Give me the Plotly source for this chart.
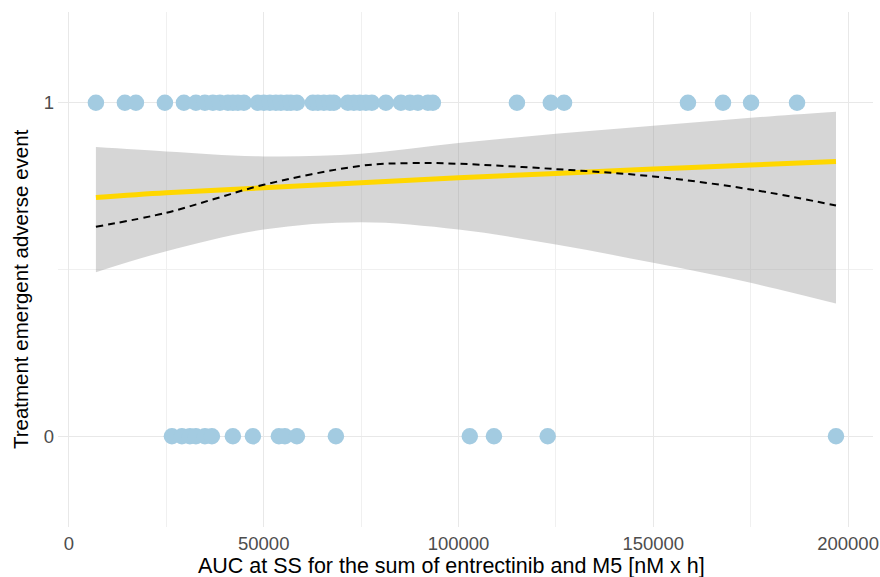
import plotly.graph_objects as go

# Observed data: exposure (AUC) and event indicator
auc_event1 = [6930, 14370, 17200, 24640, 29520, 32600, 34900, 36960, 38760, 40810,
              42090, 43380, 44920, 48510, 50050, 51590, 53130, 54410, 55960, 56980,
              58520, 62630, 63910, 65450, 66990, 68020, 71610, 73150, 74690, 76230,
              77770, 81360, 85220, 87530, 89580, 92150, 93430, 115000, 123700, 127100,
              158900, 167900, 175100, 186900]
auc_event0 = [26440, 29000, 31060, 32600, 34910, 36700, 42090, 47230, 53900, 55440,
              58520, 68530, 102900, 109100, 122900, 196900]

# Fitted curves
fit_x = [6930, 25000, 50000, 75000, 100000, 125000, 150000, 175000, 196900]
logit_fit = [0.716, 0.730, 0.745, 0.760, 0.775, 0.788, 0.801, 0.813, 0.824]
ci_upper = [0.867, 0.854, 0.839, 0.847, 0.879, 0.907, 0.931, 0.955, 0.973]
ci_lower = [0.492, 0.555, 0.620, 0.642, 0.620, 0.575, 0.520, 0.460, 0.398]
smooth_x = [6930, 25000, 37500, 50000, 75000, 87500, 100000, 125000, 150000, 175000, 196900]
smooth_fit = [0.628, 0.670, 0.712, 0.754, 0.811, 0.819, 0.817, 0.801, 0.779, 0.740, 0.692]

x_ticks = [0, 50000, 100000, 150000, 200000]
y_ticks = [0, 1]
x_title = "AUC at SS for the sum of entrectinib and M5 [nM x h]"
y_title = "Treatment emergent adverse event"

POINT = "#a3cbe1"

fig = go.Figure()

fig.add_trace(go.Scatter(
    x=fit_x, y=ci_lower, mode="lines", line=dict(width=0, shape="spline"),
    showlegend=False, hoverinfo="skip"))
fig.add_trace(go.Scatter(
    x=fit_x, y=ci_upper, mode="lines", line=dict(width=0, shape="spline"),
    fill="tonexty", fillcolor="rgba(153,153,153,0.4)",
    showlegend=False, hoverinfo="skip"))
fig.add_trace(go.Scatter(
    x=fit_x, y=logit_fit, mode="lines", line=dict(color="#FFD700", width=5, shape="spline"),
    showlegend=False))
fig.add_trace(go.Scatter(
    x=smooth_x, y=smooth_fit, mode="lines",
    line=dict(color="black", width=2, dash="7px,5px", shape="spline"), showlegend=False))

fig.add_trace(go.Scatter(
    x=auc_event1, y=[1] * len(auc_event1), mode="markers",
    marker=dict(size=16.5, color=POINT, line=dict(width=0)), showlegend=False))
fig.add_trace(go.Scatter(
    x=auc_event0, y=[0] * len(auc_event0), mode="markers",
    marker=dict(size=16.5, color=POINT, line=dict(width=0)), showlegend=False))

fig.update_layout(
    width=880, height=577,
    margin=dict(l=58, r=7, t=12, b=50),
    plot_bgcolor="white", paper_bgcolor="white",
    font=dict(family="Arial, Liberation Sans, sans-serif", size=18, color="black"),
    annotations=[
        dict(text=x_title, xref="paper", yref="paper", x=0.483, y=-0.076,
             xanchor="center", yanchor="middle", showarrow=False,
             font=dict(size=21.5, color="black")),
        dict(text=y_title, xref="paper", yref="paper", x=-0.0466, y=0.462,
             xanchor="center", yanchor="middle", showarrow=False, textangle=-90,
             font=dict(size=20.5, color="black")),
    ],
)
fig.update_xaxes(
    range=[-2800, 206400], tickvals=x_ticks, ticktext=[str(v) for v in x_ticks],
    showgrid=True, gridcolor="#e8e8e8", gridwidth=1.2, zeroline=False, showline=False,
    ticks="", tickfont=dict(size=18.5, color="#4d4d4d"), ticklabelstandoff=3,
    minor=dict(tickvals=[25000, 75000, 125000, 175000], showgrid=True, gridcolor="#f0f0f0", gridwidth=1),
    automargin=False,
)
fig.update_yaxes(
    range=[-0.272, 1.272], tickvals=y_ticks, ticktext=["0", "1"],
    showgrid=True, gridcolor="#e8e8e8", gridwidth=1.2, zeroline=False, showline=False,
    ticks="", tickfont=dict(size=18.5, color="#4d4d4d"), ticklabelstandoff=3,
    minor=dict(tickvals=[0.5], showgrid=True, gridcolor="#f0f0f0", gridwidth=1),
    automargin=False,
)

fig.write_html("out.html")
